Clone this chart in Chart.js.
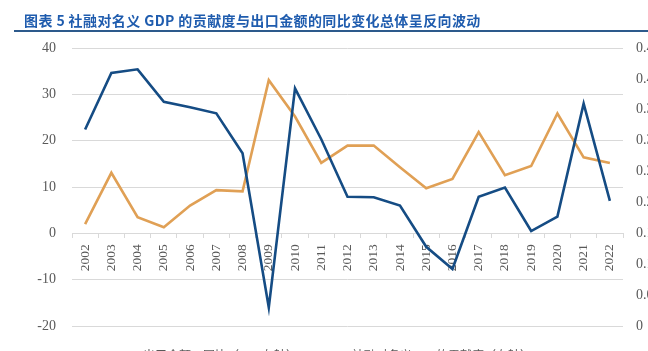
<!DOCTYPE html>
<html lang="zh">
<head>
<meta charset="UTF-8">
<title>社融对名义GDP的贡献度与出口金额</title>
<script src="https://cdn.jsdelivr.net/npm/chart.js@4.4.1/dist/chart.umd.min.js"></script>
<style>
    html, body {
        margin: 0;
        padding: 0;
        width: 648px;
        height: 351px;
        overflow: hidden;
        background: #fff;
    }
    #wrap {
        position: relative;
        width: 648px;
        height: 351px;
        overflow: hidden;
    }
    #chart {
        position: absolute;
        left: 0;
        top: 0;
    }
    .title {
        position: absolute;
        left: 24px;
        top: 10px;
        font-family: "Noto Sans CJK SC", sans-serif;
        font-weight: bold;
        font-size: 14px;
        letter-spacing: 0.4px;
        color: #1f5cae;
        white-space: nowrap;
    }
    .rule {
        position: absolute;
        left: 14px;
        top: 30px;
        width: 634px;
        height: 2px;
        background: #2d5a8c;
    }
    .legend {
        position: absolute;
        left: 0;
        width: 648px;
        top: 347px;
        text-align: center;
        font-family: "Noto Sans CJK SC", sans-serif;
        font-size: 12px;
        line-height: 16px;
        color: #595959;
        white-space: nowrap;
    }
    .legend span { margin: 0 12px; }
    .legend i {
        display: inline-block;
        width: 22px;
        height: 2px;
        vertical-align: middle;
        margin-right: 5px;
    }
</style>
</head>
<body>
<div id="wrap">
    <canvas id="chart" width="648" height="351"></canvas>
    <div class="title">图表 5 社融对名义 GDP 的贡献度与出口金额的同比变化总体呈反向波动</div>
    <div class="rule"></div>
    <div class="legend">
        <span><i style="background:#154c84"></i>出口金额：同比（%，左轴）</span>
        <span><i style="background:#e0a055"></i>社融对名义GDP的贡献度（右轴）</span>
    </div>
</div>

<script>
    // 年份
    const years = ['2002', '2003', '2004', '2005', '2006', '2007', '2008', '2009', '2010', '2011', '2012',
                   '2013', '2014', '2015', '2016', '2017', '2018', '2019', '2020', '2021', '2022'];

    // 出口金额同比 (%), 左轴
    const exportYoY = [22.4, 34.6, 35.4, 28.4, 27.2, 25.9, 17.3, -16.0, 31.3, 20.3, 7.9,
                       7.8, 6.0, -2.9, -7.7, 7.9, 9.9, 0.5, 3.6, 28.0, 7.0];

    // 社融对名义GDP的贡献度, 右轴
    const tsfContribution = [0.165, 0.248, 0.176, 0.160, 0.195, 0.220, 0.218, 0.398, 0.339, 0.264, 0.292,
                             0.292, 0.257, 0.223, 0.238, 0.314, 0.244, 0.259, 0.344, 0.273, 0.264];

    const leftTicks = { min: -20, max: 40, step: 10 };
    const rightTicks = { min: 0, max: 0.45, step: 0.05 };

    const serif = '"Liberation Serif", "Times New Roman", serif';
    const gridColor = '#d9d9d9';
    const textColor = '#595959';

    const ctx = document.getElementById('chart').getContext('2d');
    new Chart(ctx, {
        type: 'line',
        data: {
            labels: years,
            datasets: [{
                label: '出口金额：同比（%，左轴）',
                data: exportYoY,
                yAxisID: 'y',
                borderColor: '#154c84',
                borderWidth: 2.6,
                pointRadius: 0,
                tension: 0,
                fill: false
            }, {
                label: '社融对名义GDP的贡献度（右轴）',
                data: tsfContribution,
                yAxisID: 'y1',
                borderColor: '#e0a055',
                borderWidth: 2.6,
                pointRadius: 0,
                tension: 0,
                fill: false
            }]
        },
        options: {
            responsive: false,
            animation: false,
            layout: { padding: { top: 48, bottom: 25, left: 0, right: 0 } },
            plugins: {
                legend: { display: false },
                tooltip: { enabled: false }
            },
            scales: {
                x: {
                    position: { y: 0 },
                    offset: true,
                    border: { color: gridColor, width: 1 },
                    grid: {
                        offset: true,
                        drawOnChartArea: false,
                        drawTicks: true,
                        tickLength: 4,
                        color: gridColor
                    },
                    ticks: {
                        autoSkip: false,
                        minRotation: 90,
                        maxRotation: 90,
                        padding: 7,
                        color: textColor,
                        font: { family: serif, size: 13.5 }
                    }
                },
                y: {
                    position: 'left',
                    min: leftTicks.min,
                    max: leftTicks.max,
                    afterFit: s => { s.width = 72; },
                    border: { display: false },
                    grid: { color: gridColor, drawTicks: false },
                    ticks: {
                        stepSize: leftTicks.step,
                        padding: 16,
                        color: textColor,
                        font: { family: serif, size: 14 }
                    }
                },
                y1: {
                    position: 'right',
                    min: rightTicks.min,
                    max: rightTicks.max,
                    afterFit: s => { s.width = 25; },
                    border: { display: false },
                    grid: { drawOnChartArea: false, drawTicks: false },
                    ticks: {
                        stepSize: rightTicks.step,
                        padding: 13,
                        color: textColor,
                        font: { family: serif, size: 14 },
                        callback: v => (Math.abs(v) < 1e-9 ? '0' : v.toFixed(2))
                    }
                }
            }
        }
    });
</script>
</body>
</html>
